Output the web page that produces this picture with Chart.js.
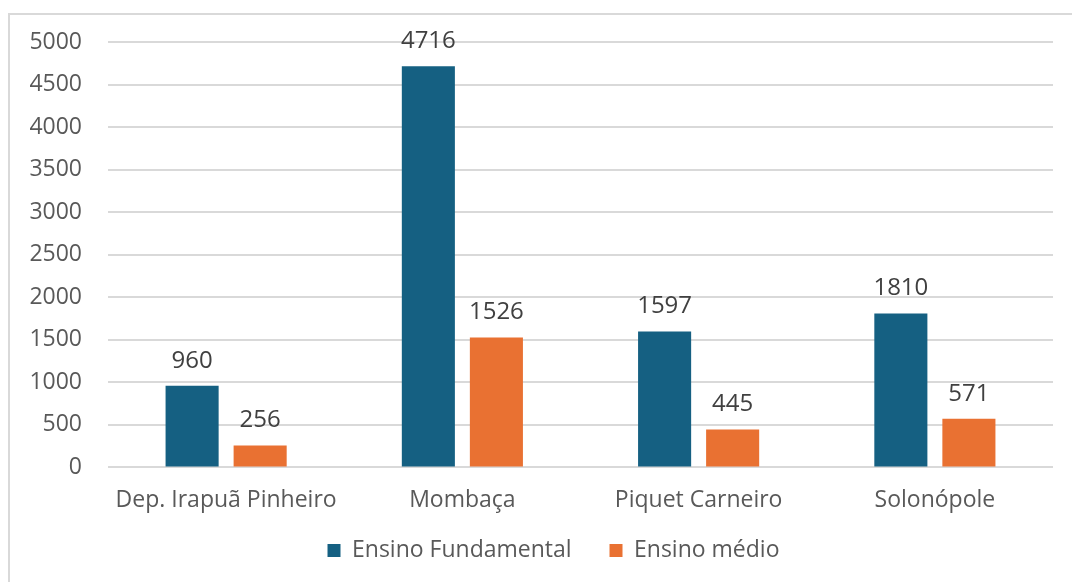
<!DOCTYPE html>
<html><head><meta charset="utf-8">
<script src="https://cdn.jsdelivr.net/npm/chart.js@4/dist/chart.umd.min.js"></script>
<style>html,body{margin:0;padding:0;background:#fff;overflow:hidden;}</style>
</head><body>
<canvas id="c" width="1072" height="582" style="width:1072px;height:582px;display:block"></canvas>
<script>
const categories = ["Dep. Irapuã Pinheiro", "Mombaça", "Piquet Carneiro", "Solonópole"];
const seriesNames = ["Ensino Fundamental", "Ensino médio"];
const fundamental = [960, 4716, 1597, 1810];
const medio = [256, 1526, 445, 571];
const yMin = 0, yMax = 5000, yStep = 500;

const FONT = "'Open Sans', 'DejaVu Sans', sans-serif";

const borderPlugin = {
  id: 'outerBorder',
  beforeDraw(chart) {
    const ctx = chart.ctx;
    ctx.save();
    ctx.fillStyle = '#ffffff';
    ctx.fillRect(0, 0, chart.width, chart.height);
    ctx.strokeStyle = '#d9d9d9';
    ctx.lineWidth = 2;
    ctx.beginPath();
    ctx.moveTo(1072, 14);
    ctx.lineTo(9, 14);
    ctx.lineTo(9, 582);
    ctx.stroke();
    ctx.restore();
  }
};

const legendShift = {
  id: 'legendShift',
  afterLayout(chart) {
    if (chart.legend) { chart.legend.left += 27; chart.legend.right += 27; }
  }
};

const labelPlugin = {
  id: 'valueLabels',
  afterDatasetsDraw(chart) {
    const ctx = chart.ctx;
    ctx.save();
    ctx.font = "24px " + FONT;
    ctx.fillStyle = '#404040';
    ctx.textAlign = 'center';
    ctx.textBaseline = 'bottom';
    chart.data.datasets.forEach((ds, i) => {
      const meta = chart.getDatasetMeta(i);
      meta.data.forEach((bar, j) => {
        ctx.fillText(String(ds.data[j]), bar.x, bar.y - 13);
      });
    });
    ctx.restore();
  }
};

new Chart(document.getElementById('c'), {
  type: 'bar',
  data: {
    labels: categories,
    datasets: [
      { label: seriesNames[0], data: fundamental, backgroundColor: '#156082' },
      { label: seriesNames[1], data: medio, backgroundColor: '#E97132' }
    ]
  },
  options: {
    responsive: false,
    devicePixelRatio: 1,
    animation: false,
    categoryPercentage: 0.576,
    barPercentage: 0.78,
    layout: { padding: { left: 0, right: 19, top: 42, bottom: 10 } },
    scales: {
      x: {
        grid: { display: false },
        border: { display: false },
        ticks: { color: '#595959', font: { family: FONT, size: 23 }, padding: 11, maxRotation: 0 }
      },
      y: {
        min: yMin, max: yMax,
        afterFit(scale) { scale.width = 108; },
        grid: { color: '#d9d9d9', lineWidth: 2, drawTicks: false },
        border: { display: false },
        ticks: { stepSize: yStep, color: '#595959', font: { family: FONT, size: 23 }, padding: 26,
                 callback: (v) => String(v) }
      }
    },
    plugins: {
      legend: {
        position: 'bottom',
        labels: {
          color: '#595959', font: { family: FONT, size: 23 }, boxWidth: 13, boxHeight: 13, padding: 14,
          generateLabels(chart) {
            const items = Chart.defaults.plugins.legend.labels.generateLabels(chart);
            items.forEach((it, i) => { if (i < items.length - 1) it.text = it.text + '    '; });
            return items;
          }
        }
      },
      tooltip: { enabled: false }
    }
  },
  plugins: [borderPlugin, legendShift, labelPlugin]
});
</script>
</body></html>
